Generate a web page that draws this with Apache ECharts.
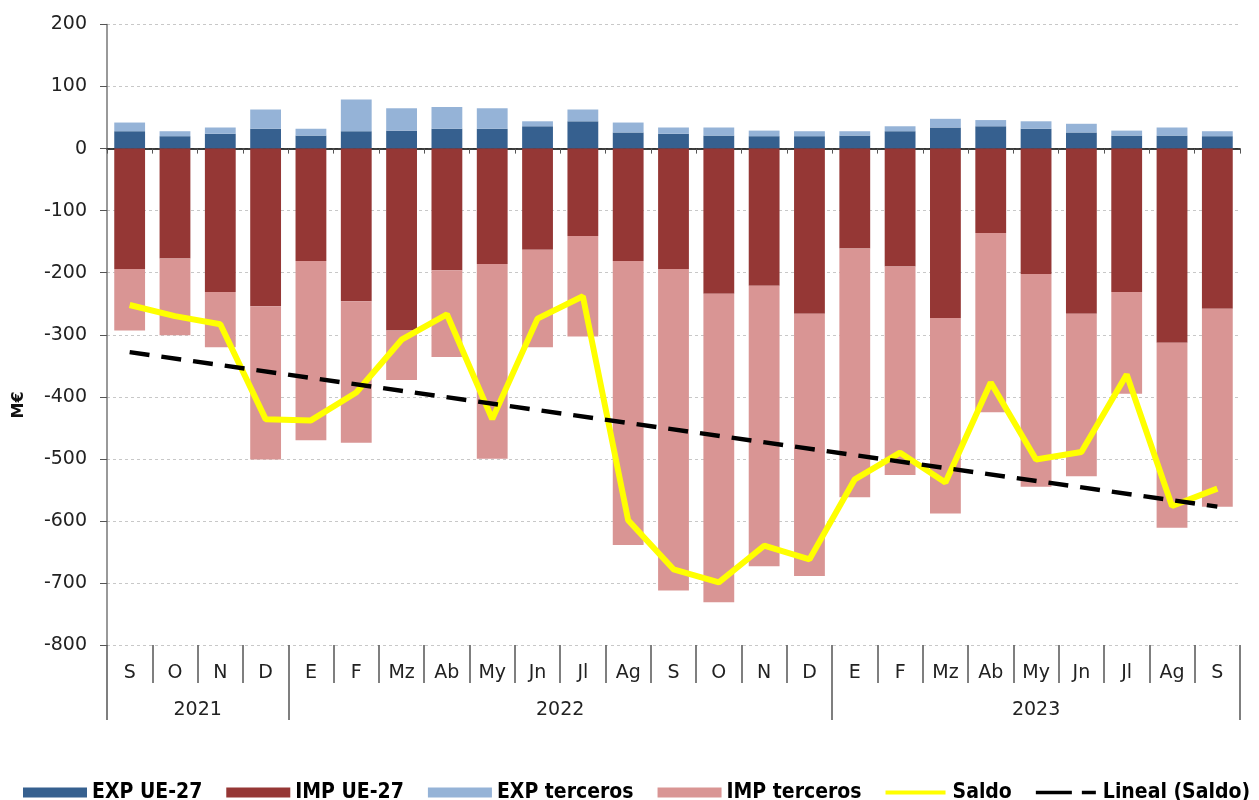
<!DOCTYPE html>
<html>
<head>
<meta charset="utf-8">
<script src="https://cdn.jsdelivr.net/npm/echarts@6/dist/echarts.min.js"></script>
<style>
  html, body { margin: 0; padding: 0; background: #fff; }
  #chart { width: 1259px; height: 800px; }
</style>
</head>
<body>
<div id="chart"></div>
<script>
// months from S 2021 to S 2023
const months = ['S', 'O', 'N', 'D', 'E', 'F', 'Mz', 'Ab', 'My', 'Jn', 'Jl', 'Ag', 'S', 'O', 'N', 'D', 'E', 'F', 'Mz', 'Ab', 'My', 'Jn', 'Jl', 'Ag', 'S']
const years = ['2021', '2022', '2023']
const monthsPerYear = [4, 12, 9]

const expUE = [28, 20, 24, 32, 21, 28, 29, 32, 32, 36, 44, 26, 24, 21, 20, 20, 21, 28, 34, 36, 32, 26, 21, 21, 20]
const impUE = [-194, -177, -231, -254, -181, -246, -293, -196, -186, -163, -141, -181, -194, -234, -221, -266, -161, -190, -273, -136, -202, -266, -231, -313, -258]
const expTerceros = [14, 8, 10, 31, 11, 51, 36, 35, 33, 8, 19, 16, 10, 13, 9, 8, 7, 8, 14, 10, 12, 14, 8, 13, 8]
const impTerceros = [-99, -124, -89, -247, -289, -228, -80, -140, -314, -157, -162, -458, -518, -497, -452, -423, -401, -336, -315, -289, -343, -262, -164, -298, -319]
const saldo = [-252, -270, -283, -436, -438, -393, -308, -267, -436, -274, -238, -599, -678, -699, -640, -662, -533, -490, -538, -377, -501, -489, -364, -576, -548]
// trend line (Lineal) read at both ends
const trendStart = -328
const trendEnd = -577

const font = 'DejaVu Sans'

// year boundaries and centres on a 0..n scale
const yearEdges = [0]
const yearCentres = []
monthsPerYear.forEach(n => {
  const start = yearEdges[yearEdges.length - 1]
  yearCentres.push(start + n / 2)
  yearEdges.push(start + n)
})

const trend = months.map((m, i) => i === 0 ? trendStart : (i === months.length - 1 ? trendEnd : null))

// legend swatches for the two lines (thin band, bbox kept at full height)
const lineIcon = 'path://M0,0L0.01,0Z M0,3L60,3L60,7L0,7Z M0,10L0.01,10Z'
const dashIcon = 'path://M0,0L0.01,0Z M0,3.3L36,3.3L36,6.7L0,6.7Z M46,3.3L60,3.3L60,6.7L46,6.7Z M0,10L0.01,10Z'

const chart = echarts.init(document.getElementById('chart'))

chart.setOption({
  animation: false,
  grid: {
    left: 107,
    right: 19,
    top: 24.5,
    bottom: 155,
    containLabel: false
  },
  legend: {
    left: 18,
    top: 777,
    itemWidth: 64,
    itemHeight: 10,
    itemGap: 24,
    textStyle: {
      fontFamily: '"Liberation Sans Narrow", "DejaVu Sans Condensed", "DejaVu Sans"',
      fontWeight: 'bold',
      fontSize: 21,
      color: '#000'
    },
    data: [
      { name: 'EXP UE-27', icon: 'rect' },
      { name: 'IMP UE-27', icon: 'rect' },
      { name: 'EXP terceros', icon: 'rect' },
      { name: 'IMP terceros', icon: 'rect' },
      { name: 'Saldo', icon: lineIcon },
      { name: 'Lineal (Saldo)', icon: dashIcon }
    ]
  },
  graphic: [{
    type: 'text',
    x: 19,
    y: 405,
    rotation: Math.PI / 2,
    style: {
      text: 'M€',
      font: 'bold 16px "DejaVu Sans"',
      fill: '#111',
      align: 'center',
      verticalAlign: 'middle'
    }
  }],
  xAxis: [
    {
      type: 'category',
      data: months,
      position: 'bottom',
      boundaryGap: true,
      axisLine: { onZero: true, lineStyle: { color: '#000', width: 1.5 } },
      axisTick: { show: true, interval: 0, length: 5, lineStyle: { color: '#555' } },
      axisLabel: { show: false },
      splitLine: { show: false }
    },
    {
      type: 'category',
      data: months,
      position: 'bottom',
      boundaryGap: true,
      axisLine: { show: false, onZero: false },
      axisTick: { show: true, interval: 0, length: 38, lineStyle: { color: '#555', width: 1.5 } },
      axisLabel: { interval: 0, margin: 19, fontFamily: font, fontSize: 19, color: '#222' },
      splitLine: { show: false }
    },
    {
      type: 'value',
      position: 'bottom',
      min: 0,
      max: months.length,
      axisLine: { show: false, onZero: false },
      axisTick: { show: true, customValues: yearEdges, length: 75, lineStyle: { color: '#555', width: 1.5 } },
      axisLabel: {
        customValues: yearCentres,
        margin: 56,
        fontFamily: font,
        fontSize: 19,
        color: '#222',
        formatter: v => years[yearCentres.indexOf(v)]
      },
      splitLine: { show: false }
    }
  ],
  yAxis: {
    type: 'value',
    min: -800,
    max: 200,
    interval: 100,
    axisLine: { show: true, lineStyle: { color: '#777', width: 1.5 } },
    axisTick: { show: true, length: 7, lineStyle: { color: '#555' } },
    axisLabel: { margin: 20, fontFamily: font, fontSize: 19, color: '#222' },
    splitLine: { show: true, lineStyle: { color: '#c8c8c8', type: [3, 3] } }
  },
  series: [
    {
      name: 'EXP UE-27',
      type: 'bar',
      stack: 'total',
      barWidth: '68%',
      itemStyle: { color: '#36608f' },
      data: expUE
    },
    {
      name: 'IMP UE-27',
      type: 'bar',
      stack: 'total',
      itemStyle: { color: '#953735' },
      data: impUE
    },
    {
      name: 'EXP terceros',
      type: 'bar',
      stack: 'total',
      itemStyle: { color: '#95b3d7' },
      data: expTerceros
    },
    {
      name: 'IMP terceros',
      type: 'bar',
      stack: 'total',
      itemStyle: { color: '#d99594' },
      data: impTerceros
    },
    {
      name: 'Saldo',
      type: 'line',
      symbol: 'none',
      lineStyle: { color: '#ffff00', width: 6 },
      itemStyle: { color: '#ffff00' },
      data: saldo
    },
    {
      name: 'Lineal (Saldo)',
      type: 'line',
      symbol: 'none',
      connectNulls: true,
      lineStyle: { color: '#000', width: 4.5, type: [20, 12] },
      itemStyle: { color: '#000' },
      data: trend
    }
  ]
})
</script>
</body>
</html>
